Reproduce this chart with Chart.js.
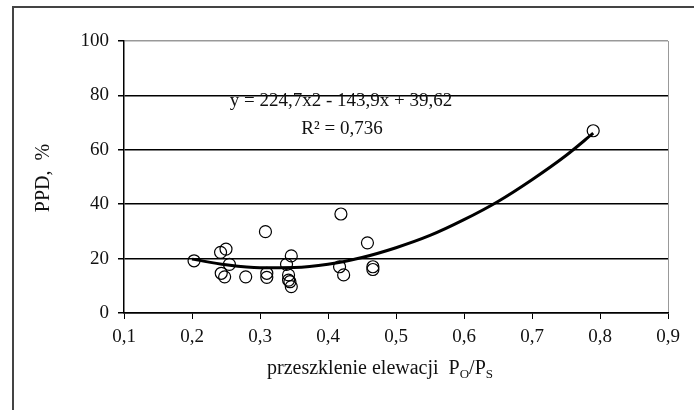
<!DOCTYPE html>
<html>
<head>
<meta charset="utf-8">
<script src="https://cdn.jsdelivr.net/npm/chart.js@4.4.1/dist/chart.umd.min.js"></script>
<style>
  html, body { margin: 0; padding: 0; background: #fff; }
  #wrap { position: relative; width: 694px; height: 410px; overflow: hidden; }
  #frame { position: absolute; left: 12px; top: 6px; width: 800px; height: 500px;
           border-top: 2px solid #444; border-left: 2px solid #444; }
  canvas { position: absolute; left: 0; top: 0; }
</style>
</head>
<body>
<div id="wrap">
  <div id="frame"></div>
  <canvas id="chart1" width="694" height="410"></canvas>
</div>
<script>
// measured points: glazing ratio Po/Ps vs PPD %
var glazing = [0.203, 0.242, 0.250, 0.255, 0.243, 0.248, 0.279, 0.308, 0.310, 0.310, 0.346, 0.339,
               0.342, 0.342, 0.344, 0.346, 0.419, 0.417, 0.423, 0.458, 0.466, 0.466, 0.790];
var ppd = [19.2, 22.3, 23.5, 17.9, 14.6, 13.3, 13.3, 29.9, 14.6, 13.1, 21.0, 17.9,
           14.0, 12.1, 11.5, 9.7, 36.4, 17.0, 14.0, 25.8, 17.0, 16.0, 67.0];

// polynomial trend line
var trendX = [0.20, 0.25, 0.30, 0.35, 0.40, 0.45, 0.50, 0.55, 0.60, 0.65, 0.70, 0.75, 0.79];
var trendY = [19.8, 17.7, 16.6, 16.7, 17.9, 20.4, 24.0, 28.5, 34.3, 41.0, 49.0, 57.9, 66.1];

var eqLines = ["y = 224,7x2 - 143,9x + 39,62", "R\u00b2 = 0,736"];
var yTitle = "PPD,  %";

var serif = "'Liberation Serif', 'Times New Roman', serif";

var pts = glazing.map(function (x, i) { return { x: x, y: ppd[i] }; });
var trend = trendX.map(function (x, i) { return { x: x, y: trendY[i] }; });

var textPlugin = {
  id: 'texts',
  afterDraw: function (chart) {
    var c = chart.ctx;
    c.save();
    c.fillStyle = '#111';
    c.textBaseline = 'middle';
    c.textAlign = 'center';
    c.font = '19px ' + serif;
    c.fillText(eqLines[0], 341, 101);
    c.fillText(eqLines[1], 342, 129);

    // y title
    c.save();
    c.translate(44, 178);
    c.rotate(-Math.PI / 2);
    c.font = '20px ' + serif;
    c.fillText(yTitle, 0, 0);
    c.restore();

    // x title with subscripts
    var parts = [['przeszklenie elewacji  P', 0], ['O', 1], ['/P', 0], ['S', 1]];
    var widths = parts.map(function (p) {
      c.font = (p[1] ? '13px ' : '20px ') + serif;
      return c.measureText(p[0]).width;
    });
    var total = widths.reduce(function (a, b) { return a + b; }, 0);
    var x = 380 - total / 2;
    c.textAlign = 'left';
    c.textBaseline = 'alphabetic';
    parts.forEach(function (p, i) {
      c.font = (p[1] ? '13px ' : '20px ') + serif;
      c.fillText(p[0], x, p[1] ? 378 : 374);
      x += widths[i];
    });
    c.restore();
  }
};

new Chart(document.getElementById('chart1'), {
  type: 'scatter',
  data: {
    datasets: [{
      label: 'PPD',
      data: pts,
      pointStyle: 'circle',
      pointRadius: 6,
      pointBorderWidth: 1.2,
      borderColor: '#000',
      backgroundColor: 'rgba(0,0,0,0)'
    }, {
      label: 'trend',
      type: 'line',
      data: trend,
      borderColor: '#000',
      borderWidth: 3,
      pointRadius: 0,
      cubicInterpolationMode: 'monotone',
      fill: false
    }]
  },
  options: {
    responsive: false,
    animation: false,
    layout: { padding: { left: 0, top: 41, right: 26, bottom: 0 } },
    plugins: {
      legend: { display: false },
      tooltip: { enabled: false }
    },
    scales: {
      x: {
        type: 'linear',
        min: 0.1,
        max: 0.9,
        afterFit: function (s) { s.height = 97; },
        ticks: {
          stepSize: 0.1,
          padding: 7,
          color: '#111',
          font: { family: serif, size: 19 },
          callback: function (v) { return v.toFixed(1).replace('.', ','); }
        },
        grid: {
          color: function (ctx) {
            return ctx.index === 8 ? '#999' : 'rgba(0,0,0,0)';
          },
          tickColor: '#000',
          tickLength: 6
        },
        border: { color: '#000', width: 1.5 }
      },
      y: {
        min: 0,
        max: 100,
        afterFit: function (s) { s.width = 124; },
        ticks: {
          stepSize: 20,
          padding: 9,
          color: '#111',
          font: { family: serif, size: 19 }
        },
        grid: {
          color: function (ctx) {
            return ctx.tick && ctx.tick.value === 100 ? '#999' : '#000';
          },
          lineWidth: 1.5,
          tickColor: '#000',
          tickLength: 6
        },
        border: { color: '#000', width: 1.5 }
      }
    }
  },
  plugins: [textPlugin]
});
</script>
</body>
</html>
